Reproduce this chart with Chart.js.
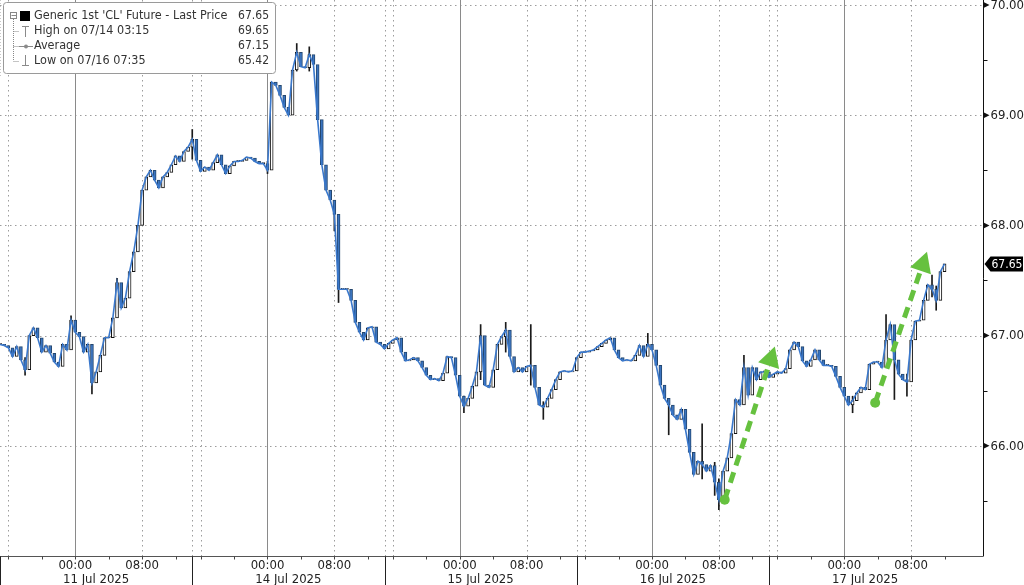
<!DOCTYPE html>
<html><head><meta charset="utf-8">
<script src="https://cdn.jsdelivr.net/npm/chart.js@4.4.1/dist/chart.umd.min.js"></script>
<style>html,body{margin:0;padding:0;background:#fff;overflow:hidden}canvas{display:block}</style>
</head><body>
<canvas id="c" width="1024" height="585"></canvas>
<script>
// ---- data ----
// Closing prices sampled every 30 minutes from the 11 Jul session open
const closes = [
 66.92,66.91,66.89,66.81,66.90,66.78,66.69,67.00,67.07,66.98,
 66.85,66.91,66.84,66.76,66.72,66.92,66.87,67.14,67.03,66.99,
 66.85,66.92,66.57,66.67,66.82,66.98,66.98,67.16,67.48,67.25,
 67.34,67.58,67.76,68.00,68.32,68.44,68.50,68.41,68.34,68.44,
 68.48,68.55,68.63,68.58,68.67,68.71,68.78,68.59,68.49,68.53,
 68.50,68.57,68.64,68.55,68.47,68.54,68.58,68.58,68.59,68.62,
 68.61,68.58,68.56,68.56,68.50,69.30,69.27,69.18,69.07,69.00,
 69.41,69.57,69.44,69.43,69.55,69.46,68.96,68.55,68.32,68.23,
 68.10,67.42,67.42,67.42,67.32,67.12,67.03,66.96,67.07,67.08,
 66.94,66.92,66.88,66.93,66.96,66.98,66.85,66.77,66.78,66.80,
 66.77,66.71,66.64,66.60,66.61,66.59,66.66,66.81,66.80,66.64,
 66.45,66.36,66.43,66.54,66.67,67.00,66.55,66.53,66.69,66.92,
 66.99,67.05,66.81,66.67,66.71,66.67,66.72,66.73,66.53,66.37,
 66.35,66.43,66.51,66.60,66.67,66.68,66.67,66.68,66.80,66.85,
 66.85,66.86,66.87,66.90,66.93,66.96,66.98,66.87,66.80,66.77,
 66.78,66.77,66.82,66.91,66.81,66.92,66.87,66.73,66.55,66.43,
 66.37,66.28,66.24,66.33,66.15,65.94,65.74,65.86,65.83,65.77,
 65.82,65.67,65.51,65.77,65.89,66.11,66.42,66.37,66.71,66.46,
 66.71,66.60,66.67,66.67,66.62,66.65,66.67,66.66,66.70,66.87,
 66.94,66.90,66.77,66.72,66.78,66.87,66.78,66.73,66.73,66.72,
 66.63,66.53,66.45,66.37,66.41,66.48,66.53,66.51,66.74,66.76,
 66.76,66.71,66.96,67.10,66.78,66.65,66.60,66.58,66.96,67.13,
 67.14,67.32,67.46,67.42,67.32,67.58,67.65
];
const stepHours = 0.5;
// notable intrabar spikes: sample index, low, high
const spikeIdx  = [6,17,22,28,46,64,71,74,80,81,111,115,121,127,130,155,160,168,171,172,178,204,212,214,217,223,224];
const spikeLow  = [66.64,66.98,66.47,67.20,68.60,68.47,69.40,69.40,67.95,67.30,66.30,66.60,66.85,66.55,66.24,66.85,66.10,65.70,65.55,65.42,66.40,66.30,66.75,66.42,66.45,67.35,67.23];
const spikeHigh = [66.80,67.18,66.67,67.52,68.87,68.58,69.65,69.62,68.16,67.60,66.45,67.10,67.12,67.10,66.40,67.02,66.40,66.20,65.85,65.70,66.82,66.45,67.19,66.95,66.65,67.55,67.45];
const sessionDates = ['11 Jul 2025','14 Jul 2025','15 Jul 2025','16 Jul 2025','17 Jul 2025'];
const sessionLengthHours = 23;
const timeTickLabels = ['00:00','08:00'];
const timeTickOffsets = [9, 17];            // hours after session open
const minorTimeOffsets = [1,5,9,13,17,21];  // 4-hourly ticks, hours after open
const extraGridOffsets = [0, 1];            // session open gridlines
const yTicks = [66,67,68,69,70];
const yMinorTicks = [65.5,66.5,67.5,68.5,69.5];
const lastPrice = 67.65;
const legendLabels = ["Generic 1st 'CL' Future - Last Price","High on 07/14 03:15","Average","Low on 07/16 07:35"];
const legendValues = ['67.65','69.65','67.15','65.42'];
// green trend arrows: [hours, price] start -> end
const arrowStarts = [[86.7,65.51],[104.7,66.39]];
const arrowEnds   = [[92.7,66.90],[110.9,67.76]];

// ---- build datasets ----
const linePts = closes.map((v,i)=>({x:i*stepHours,y:v}));
const bodyPts = closes.map((v,i)=>({x:i*stepHours,y:[i?closes[i-1]:v,v]}));
const wickPts = spikeIdx.map((k,j)=>({x:k*stepHours,y:[spikeLow[j],spikeHigh[j]]}));

const FONT = '"DejaVu Sans Condensed","Liberation Sans",sans-serif';
const GREEN = '#66c13f';

function seg(ctx,x1,y1,x2,y2){ctx.beginPath();ctx.moveTo(x1,y1);ctx.lineTo(x2,y2);ctx.stroke();}

const deco = {
  id:'deco',
  beforeDatasetsDraw(chart){
    const {ctx, chartArea:a, scales:{x,y}} = chart;
    ctx.save();
    ctx.lineWidth = 1;
    ctx.strokeStyle = '#9c9c9c';
    ctx.setLineDash([1.5,3.5]);
    yTicks.forEach(v=>{const py=Math.round(y.getPixelForValue(v))+0.5; seg(ctx,a.left,py,a.right,py);});
    sessionDates.forEach((d,s)=>{
      const base = s*sessionLengthHours;
      extraGridOffsets.concat([timeTickOffsets[1]]).forEach(o=>{
        const px = Math.round(x.getPixelForValue(base+o))+0.5;
        if(px>a.left+1) seg(ctx,px,a.top,px,a.bottom);
      });
    });
    ctx.setLineDash([]);
    ctx.strokeStyle = '#8a8a8a';
    sessionDates.forEach((d,s)=>{
      const px = Math.round(x.getPixelForValue(s*sessionLengthHours+timeTickOffsets[0]))+0.5;
      seg(ctx,px,a.top,px,a.bottom);
    });
    ctx.restore();
  },
  afterDraw(chart){
    const {ctx, chartArea:a, scales:{x,y}} = chart;
    const W = chart.width, H = chart.height;
    ctx.save();
    // green arrows
    arrowStarts.forEach((st,i)=>{
      const en = arrowEnds[i];
      const x1=x.getPixelForValue(st[0]), y1=y.getPixelForValue(st[1]);
      const x2=x.getPixelForValue(en[0]), y2=y.getPixelForValue(en[1]);
      const ang=Math.atan2(y2-y1,x2-x1), L=20, hw=11;
      const bx=x2-L*Math.cos(ang), by=y2-L*Math.sin(ang);
      ctx.strokeStyle=GREEN; ctx.fillStyle=GREEN; ctx.lineWidth=5; ctx.lineCap='butt';
      ctx.setLineDash([11,7]);
      seg(ctx,x1,y1,bx,by);
      ctx.setLineDash([]);
      ctx.beginPath(); ctx.arc(x1,y1,5,0,Math.PI*2); ctx.fill();
      ctx.beginPath(); ctx.moveTo(x2,y2);
      ctx.lineTo(bx+hw*Math.sin(ang),by-hw*Math.cos(ang));
      ctx.lineTo(bx-hw*Math.sin(ang),by+hw*Math.cos(ang));
      ctx.closePath(); ctx.fill();
    });
    // x axis
    ctx.lineWidth=1; ctx.strokeStyle='#555';
    const ab = Math.round(a.bottom)+0.5;
    seg(ctx,a.left,ab,a.right,ab);
    ctx.strokeStyle='#444';
    sessionDates.forEach((d,s)=>{
      const base=s*sessionLengthHours;
      minorTimeOffsets.forEach(o=>{
        const px=Math.round(x.getPixelForValue(base+o))+0.5;
        seg(ctx,px,ab,px,ab+3);
      });
      const sx=Math.round(x.getPixelForValue(base))+0.5;
      ctx.strokeStyle='#222';
      seg(ctx,Math.max(sx,0.5),ab,Math.max(sx,0.5),H);
      ctx.strokeStyle='#444';
    });
    ctx.fillStyle='#222'; ctx.font='13px '+FONT; ctx.textAlign='center'; ctx.textBaseline='middle';
    sessionDates.forEach((d,s)=>{
      const base=s*sessionLengthHours;
      timeTickOffsets.forEach((o,j)=>{
        ctx.fillText(timeTickLabels[j], x.getPixelForValue(base+o), ab+9);
      });
      ctx.fillText(d, x.getPixelForValue(base+sessionLengthHours/2), ab+23);
    });
    // y axis (right)
    const ar = Math.round(a.right)+0.5;
    ctx.strokeStyle='#111';
    seg(ctx,ar,a.top,ar,ab);
    yMinorTicks.forEach(v=>{const py=Math.round(y.getPixelForValue(v))+0.5; seg(ctx,ar,py,ar+4,py);});
    ctx.fillStyle='#111';
    yTicks.forEach(v=>{
      const py=y.getPixelForValue(v);
      ctx.beginPath(); ctx.moveTo(ar,py-3); ctx.lineTo(ar+6,py); ctx.lineTo(ar,py+3); ctx.closePath(); ctx.fill();
    });
    ctx.fillStyle='#222'; ctx.textAlign='left'; ctx.font='13px '+FONT;
    yTicks.forEach(v=>ctx.fillText(v.toFixed(2), ar+7, y.getPixelForValue(v)+0.5));
    // last price tag
    const lp=y.getPixelForValue(lastPrice);
    ctx.fillStyle='#000';
    ctx.beginPath(); ctx.moveTo(ar+1,lp); ctx.lineTo(ar+7,lp-7.5); ctx.lineTo(W-1,lp-7.5); ctx.lineTo(W-1,lp+7.5); ctx.lineTo(ar+7,lp+7.5); ctx.closePath(); ctx.fill();
    ctx.fillStyle='#fff'; ctx.font='12px '+FONT;
    ctx.fillText(lastPrice.toFixed(2), ar+8, lp+0.5);
    // legend box
    ctx.fillStyle='#fff'; ctx.strokeStyle='#9a9a9a'; ctx.lineWidth=1;
    ctx.beginPath(); ctx.roundRect(3.5,2.5,272,71,3); ctx.fill(); ctx.stroke();
    ctx.strokeStyle='#c8c8c8'; ctx.setLineDash([1,2]);
    seg(ctx,0.5,0,0.5,76);
    ctx.setLineDash([1,1]); ctx.strokeStyle='#888';
    seg(ctx,13.5,19,13.5,61);
    [31,46,61].forEach(r=>seg(ctx,13.5,r+0.5,19,r+0.5));
    ctx.setLineDash([]);
    ctx.strokeStyle='#888'; ctx.strokeRect(10.5,12.5,6,6); seg(ctx,11.5,15.5,16,15.5);
    ctx.fillStyle='#000'; ctx.fillRect(20,11,10,10);
    ctx.strokeStyle='#8a8a8a';
    seg(ctx,25.5,26,25.5,37); seg(ctx,22,26.5,29,26.5);
    seg(ctx,19,46.5,33,46.5); ctx.fillStyle='#8a8a8a'; ctx.beginPath(); ctx.arc(26,46.5,2,0,Math.PI*2); ctx.fill();
    seg(ctx,25.5,55,25.5,66); seg(ctx,22,65.5,29,65.5);
    ctx.fillStyle='#333'; ctx.textBaseline='middle';
    const rows=[16,31,46,61];
    legendLabels.forEach((t,i)=>{
      ctx.textAlign='left'; ctx.font='12.5px '+FONT; ctx.fillText(t,34,rows[i]);
      ctx.textAlign='right'; ctx.font='12px '+FONT; ctx.fillText(legendValues[i],269,rows[i]);
    });
    ctx.restore();
  }
};

new Chart(document.getElementById('c'), {
  data:{datasets:[
    {type:'line', data:linePts, borderColor:'#3a78cc', borderWidth:1.6, pointRadius:0, tension:0, order:0},
    {type:'bar', data:bodyPts, barThickness:3, minBarLength:1, borderWidth:1, borderSkipped:false, grouped:false,
      backgroundColor:c=>{const r=c.raw; return r && r.y[1]>=r.y[0] ? '#ffffff' : '#3a74c0';},
      borderColor:c=>{const r=c.raw; return r && r.y[1]>=r.y[0] ? '#111111' : '#24476f';},
      order:1},
    {type:'bar', data:wickPts, barThickness:1, borderWidth:0, grouped:false, backgroundColor:'#1a1a1a', order:2}
  ]},
  options:{
    responsive:false, animation:false, devicePixelRatio:1,
    layout:{padding:{left:0,top:0,right:41,bottom:29}},
    plugins:{legend:{display:false}, tooltip:{enabled:false}},
    scales:{
      x:{type:'linear', display:false, min:0, max:117.6, offset:false},
      y:{type:'linear', display:false, min:65, max:70.045}
    }
  },
  plugins:[deco]
});
</script>
</body></html>
